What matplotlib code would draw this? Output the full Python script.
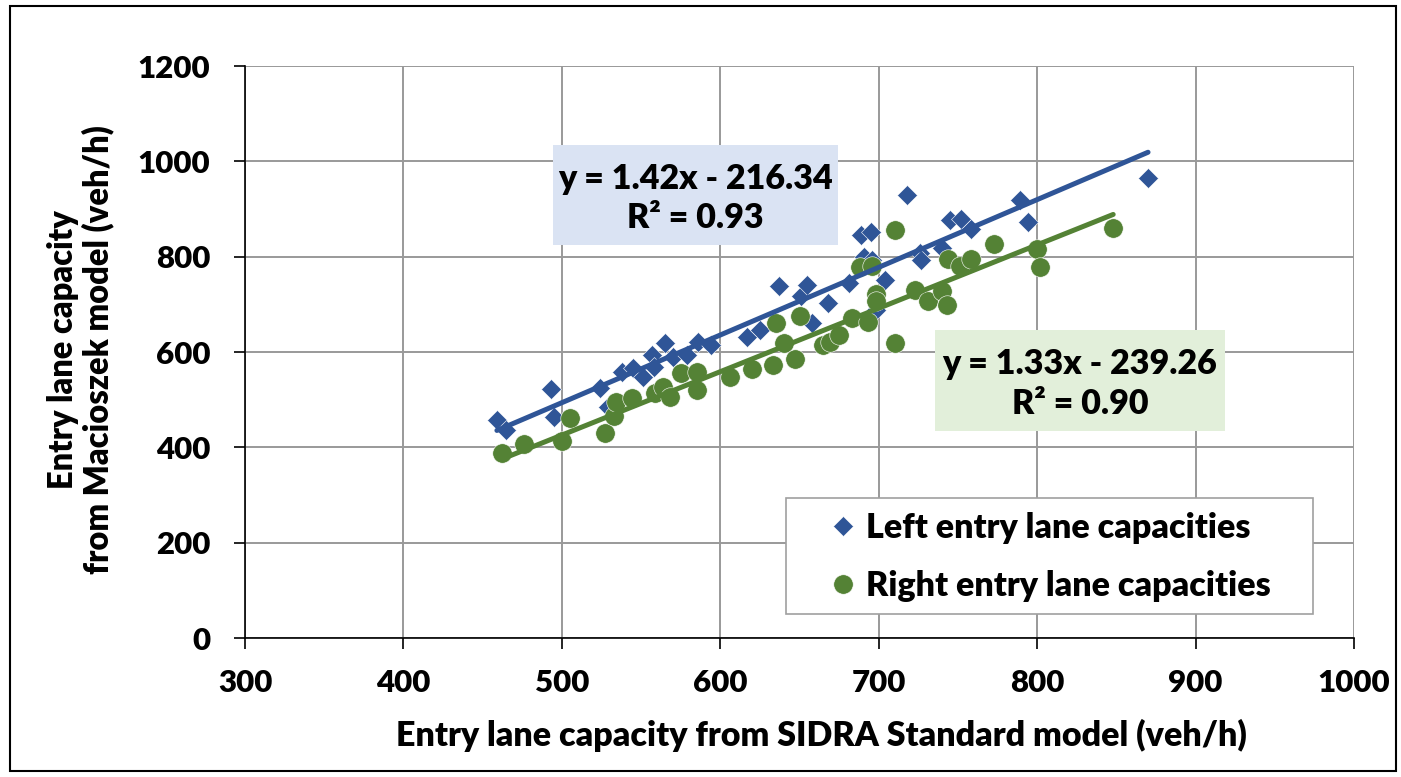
import matplotlib

matplotlib.use("Agg")
import matplotlib.pyplot as plt
from matplotlib.patches import Rectangle
import numpy as np

FONT = ["Lato", "DejaVu Sans"]
WEIGHT = "heavy"
TICK_SIZE = 22.5
LABEL_SIZE = 24.5
TEXT_SIZE = 24.5

BLUE = "#2f5597"
GREEN = "#548235"

# values
left_x = [459, 465, 493, 495, 524, 529, 538, 545, 551, 557, 558, 565, 570, 579,
          586, 594, 617, 625, 637, 651, 655, 658, 668, 681, 689, 695, 691, 696,
          704, 698, 718, 726, 727, 740, 745, 752, 758, 789, 794, 870]
left_y = [457, 436, 522, 463, 524, 485, 557, 566, 548, 594, 569, 618, 590, 594,
          622, 615, 632, 646, 738, 718, 740, 660, 702, 745, 845, 852, 800, 793,
          751, 688, 929, 808, 793, 819, 877, 880, 859, 919, 873, 964]

right_x = [462, 476, 500, 505, 527, 533, 534, 544, 559, 564, 568, 575, 585, 585,
           606, 620, 633, 635, 640, 647, 650, 665, 669, 675, 683, 693, 688, 696,
           698, 698, 710, 710, 723, 731, 740, 743, 744, 751, 758, 773, 800, 802, 848]
right_y = [389, 408, 414, 462, 431, 466, 496, 503, 513, 527, 506, 555, 559, 520,
           548, 565, 573, 661, 619, 585, 676, 615, 622, 636, 671, 662, 779, 781,
           722, 706, 856, 618, 730, 706, 728, 699, 796, 780, 796, 826, 817, 779, 861]

left_fit = (1.42, -216.34, 0.93)
right_fit = (1.33, -239.26, 0.90)

x_ticks = [300, 400, 500, 600, 700, 800, 900, 1000]
y_ticks = [0, 200, 400, 600, 800, 1000, 1200]

W, H = 1401, 777
AX_L, AX_R, AX_T, AX_B = 245, 1354, 66, 638


def ax_frac(px, py):
    # pixel position in the 1401x777 picture -> axes fraction
    return (px - AX_L) / (AX_R - AX_L), (AX_B - py) / (AX_B - AX_T)


fig = plt.figure(figsize=(W / 100, H / 100), dpi=100)
ax = fig.add_axes([AX_L / W, 1 - AX_B / H, (AX_R - AX_L) / W, (AX_B - AX_T) / H])

ax.plot(left_x, left_y, linestyle="none", marker="D", markersize=10.5,
        color=BLUE, markeredgecolor="white", markeredgewidth=0.4,
        label="Left entry lane capacities", zorder=3)
ax.plot(right_x, right_y, linestyle="none", marker="o", markersize=14,
        color=GREEN, markeredgecolor="white", markeredgewidth=0.4,
        label="Right entry lane capacities", zorder=3)

for xs, (slope, icpt, _), col in [(left_x, left_fit, BLUE), (right_x, right_fit, GREEN)]:
    xl = np.array([min(xs), max(xs)], dtype=float)
    ax.plot(xl, slope * xl + icpt, color=col, linewidth=3.6,
            solid_capstyle="round", zorder=4)

ax.set_xlim(300, 1000)
ax.set_ylim(0, 1200)
ax.set_xticks(x_ticks)
ax.set_yticks(y_ticks)
ax.grid(True, color="#999999", linewidth=1.4)
ax.set_axisbelow(True)
for side in ("top", "right"):
    ax.spines[side].set_visible(False)
for side in ("left", "bottom"):
    ax.spines[side].set_color("black")
    ax.spines[side].set_linewidth(1.2)
ax.tick_params(axis="both", direction="out", length=8, width=1.2, colors="black")
ax.tick_params(axis="y", pad=17)
ax.tick_params(axis="x", pad=14)
for lab in ax.get_xticklabels() + ax.get_yticklabels():
    lab.set_family(FONT)
    lab.set_fontweight(WEIGHT)
    lab.set_fontsize(TICK_SIZE)

fig.text(821 / W, 1 - 735 / H,
         "Entry lane capacity from SIDRA Standard model (veh/h)",
         ha="center", va="center", fontsize=LABEL_SIZE, fontweight=WEIGHT, family=FONT)
fig.text(81 / W, 1 - 350 / H,
         "Entry lane capacity\nfrom Macioszek model (veh/h)",
         ha="center", va="center", rotation=90, multialignment="center",
         fontsize=LABEL_SIZE - 1, fontweight=WEIGHT, family=FONT, linespacing=1.1)

# regression equation boxes (pixel corners from the reference)
eq_boxes = [(left_fit, (553, 145, 838, 245), "#dae3f3"),
            (right_fit, (935, 330, 1225, 431), "#e2efda")]
for (slope, icpt, r2), (x0, y0, x1, y1), face in eq_boxes:
    fx0, fy1 = ax_frac(x0, y0)
    fx1, fy0 = ax_frac(x1, y1)
    ax.add_patch(Rectangle((fx0, fy0), fx1 - fx0, fy1 - fy0, transform=ax.transAxes,
                           facecolor=face, edgecolor="none", zorder=5))
    sign = "-" if icpt < 0 else "+"
    ax.text((fx0 + fx1) / 2, (fy0 + fy1) / 2 - 0.006,
            f"y = {slope:.2f}x {sign} {abs(icpt):.2f}\nR² = {r2:.2f}",
            transform=ax.transAxes, ha="center", va="center", multialignment="center",
            fontsize=TEXT_SIZE, fontweight=WEIGHT, family=FONT, linespacing=1.28,
            zorder=6)

# legend: fixed frame like the reference, entries placed inside it
lx0, ly1 = ax_frac(786, 498)
lx1, ly0 = ax_frac(1313, 614)
ax.add_patch(Rectangle((lx0, ly0), lx1 - lx0, ly1 - ly0, transform=ax.transAxes,
                       facecolor="white", edgecolor="#a0a0a0", linewidth=1.2, zorder=6))
leg = ax.legend(loc="center left", bbox_to_anchor=ax_frac(829, 557),
                frameon=False, borderpad=0, borderaxespad=0,
                handlelength=0.8, handletextpad=0.3, labelspacing=0.75,
                prop={"family": FONT, "weight": WEIGHT, "size": TEXT_SIZE})
leg.set_zorder(7)

fig.patches.append(Rectangle((10 / W, 1 - 771 / H), 1386 / W, 765 / H,
                             transform=fig.transFigure, fill=False,
                             edgecolor="black", linewidth=1.5))

fig.savefig("out.png", dpi=100)
